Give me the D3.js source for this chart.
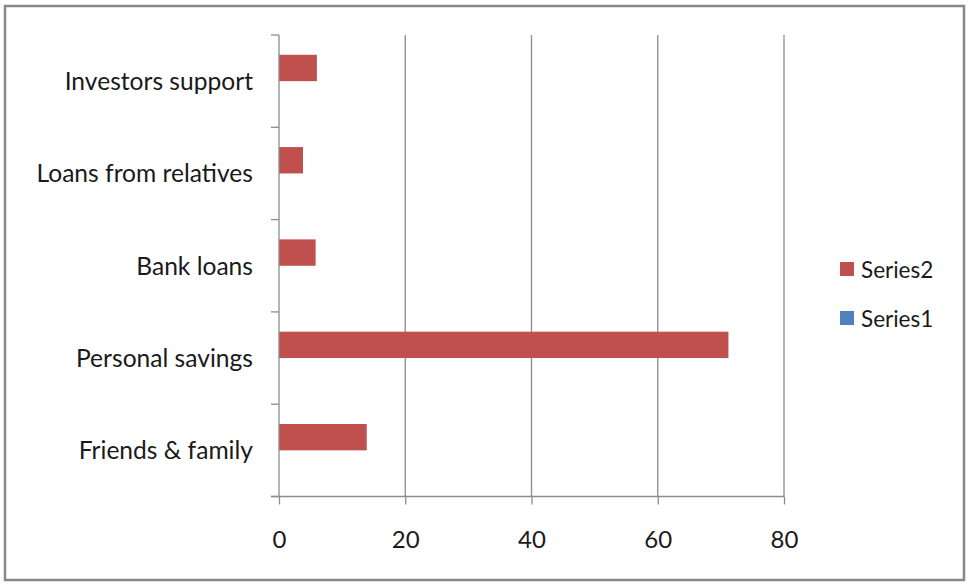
<!DOCTYPE html>
<html>
<head>
<meta charset="utf-8">
<script src="https://cdn.jsdelivr.net/npm/d3@7"></script>
<style>
  html, body { margin: 0; padding: 0; background: #fff; }
  svg { display: block; }
  text { font-family: Lato, "Open Sans", sans-serif; fill: #1a1a1a; }
</style>
</head>
<body>
<svg id="chart" width="969" height="584"></svg>
<script>
// Funding sources, listed bottom to top
const categories = ["Friends & family", "Personal savings", "Bank loans", "Loans from relatives", "Investors support"];
const series1 = [0, 0, 0, 0, 0];
const series2 = [13.9, 71.2, 5.8, 3.8, 6];
const seriesNames = ["Series1", "Series2"];
const seriesColors = ["#4f81bd", "#c0504d"];
const xTicks = [0, 20, 40, 60, 80];

const FONT = 'Lato, "Open Sans", sans-serif';

const svg = d3.select("#chart");

// outer frame
svg.append("rect")
  .attr("x", 5).attr("y", 6).attr("width", 959).attr("height", 574)
  .attr("fill", "#fff").attr("stroke", "#898989").attr("stroke-width", 2.5);

const plotLeft = 279, plotRight = 784, plotTop = 35, plotBottom = 496.5;

const x = d3.scaleLinear().domain([0, 80]).range([plotLeft, plotRight]);
const y = d3.scaleBand().domain(categories.slice().reverse()).range([plotTop, plotBottom]).paddingInner(0).paddingOuter(0);
// two bars per category, gap width 150%
const inner = d3.scaleBand().domain(["Series2", "Series1"]).range([0, y.bandwidth()]).paddingInner(0).paddingOuter(0.75);

// vertical gridlines
svg.append("g").selectAll("line")
  .data(xTicks.filter(d => d > 0))
  .join("line")
  .attr("x1", d => x(d)).attr("x2", d => x(d))
  .attr("y1", plotTop).attr("y2", plotBottom)
  .attr("stroke", "#8c8c8c").attr("stroke-width", 1.3);

// bars
const rows = categories.map((c, i) => ({ c, s1: series1[i], s2: series2[i] }));
const barG = svg.append("g");
barG.selectAll("rect.s2")
  .data(rows).join("rect")
  .attr("class", "s2")
  .attr("x", x(0))
  .attr("y", d => y(d.c) + inner("Series2"))
  .attr("width", d => x(d.s2) - x(0))
  .attr("height", inner.bandwidth())
  .attr("fill", seriesColors[1]);
barG.selectAll("rect.s1")
  .data(rows).join("rect")
  .attr("class", "s1")
  .attr("x", x(0))
  .attr("y", d => y(d.c) + inner("Series1"))
  .attr("width", d => x(d.s1) - x(0))
  .attr("height", inner.bandwidth())
  .attr("fill", seriesColors[0]);

// x axis
const xAxis = d3.axisBottom(x).tickValues(xTicks).tickSize(8).tickSizeOuter(0).tickPadding(0);
const gx = svg.append("g").attr("transform", `translate(0,${plotBottom})`).call(xAxis);
gx.select(".domain").attr("stroke", "#8c8c8c").attr("stroke-width", 1.3)
  .attr("d", `M${plotLeft - 8},0H${plotRight}`);
gx.selectAll(".tick line").attr("stroke", "#8c8c8c").attr("stroke-width", 1.3);
gx.selectAll(".tick text")
  .attr("y", 51).attr("dy", null)
  .attr("font-size", 24).attr("fill", "#1a1a1a")
  .style("font-family", FONT);

// y axis with ticks between categories
const gy = svg.append("g");
gy.append("line").attr("x1", plotLeft).attr("x2", plotLeft).attr("y1", plotTop).attr("y2", plotBottom)
  .attr("stroke", "#8c8c8c").attr("stroke-width", 1.3);
const boundaries = d3.range(categories.length + 1).map(i => plotTop + i * y.step());
gy.selectAll("line.tk").data(boundaries).join("line")
  .attr("class", "tk")
  .attr("x1", plotLeft - 8).attr("x2", plotLeft)
  .attr("y1", d => d).attr("y2", d => d)
  .attr("stroke", "#8c8c8c").attr("stroke-width", 1.3);
gy.selectAll("text").data(categories).join("text")
  .attr("x", 253)
  .attr("y", d => y(d) + y.bandwidth() / 2 + 8.8)
  .attr("text-anchor", "end")
  .attr("font-size", 24.6)
  .text(d => d);

// legend
const legendItems = [{ name: seriesNames[1], color: seriesColors[1] }, { name: seriesNames[0], color: seriesColors[0] }];
const lg = svg.append("g").attr("transform", "translate(840,262)");
legendItems.forEach((d, i) => {
  const g = lg.append("g").attr("transform", `translate(0,${i * 49})`);
  g.append("rect").attr("width", 14).attr("height", 14).attr("fill", d.color);
  g.append("text").attr("x", 21).attr("y", 16).attr("font-size", 22.5).text(d.name);
});
</script>
</body>
</html>
